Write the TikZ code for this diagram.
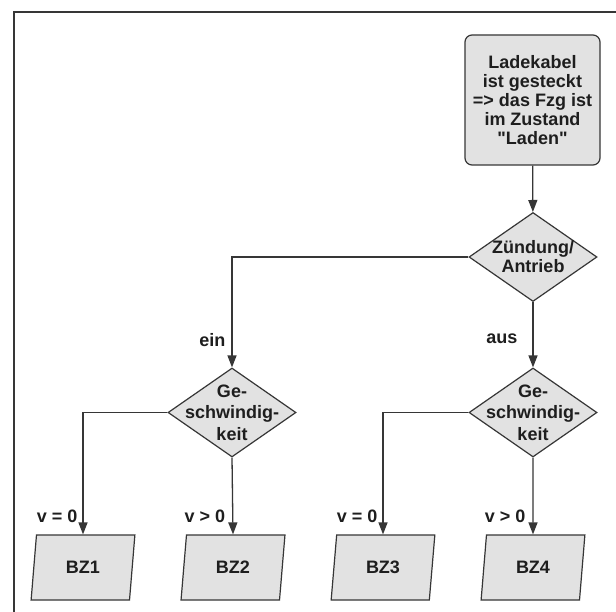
\documentclass[tikz,border=0pt]{standalone}
\usepackage{fontspec}
\setmainfont{Liberation Sans}[Ligatures=TeXOff]
\usetikzlibrary{shapes.geometric,arrows.meta}
\definecolor{boxfill}{HTML}{E2E2E2}
\definecolor{linec}{HTML}{363636}
\definecolor{textc}{HTML}{1E1E1E}
\begin{document}
\begin{tikzpicture}[x=1pt,y=-1pt,
  txt/.style={font=\bfseries\fontsize{18}{19}\selectfont, text=textc},
  txtg/.style={font=\bfseries\fontsize{18}{21.5}\selectfont, text=textc},
  box/.style={draw=linec, line width=1.2pt, fill=boxfill},
  startbox/.style={box, rounded corners=7pt, minimum width=135pt, minimum height=130pt, align=center, inner sep=0pt, txt},
  decision/.style={box, diamond, minimum width=128pt, minimum height=89pt, inner sep=0pt},
  io/.style={box, trapezium, trapezium left angle=81, trapezium right angle=99, trapezium stretches=true, minimum width=104pt, minimum height=65pt, inner sep=0pt, txt},
  flow/.style={draw=linec, line width=1.3pt, -{Triangle[length=12pt,width=9pt]}},
  lbl/.style={txt, inner sep=0pt, anchor=east}]
\useasboundingbox (0,0) rectangle (616,612);
\fill[white] (0,0) rectangle (616,612);
\draw[line width=1.5pt, draw=linec] (616,12) -- (14,12) -- (14,612);

\node[startbox] (start) at (532.5,100) {Ladekabel\\ist gesteckt\\=> das Fzg ist\\im Zustand\\"Laden"};
\node[decision, label={[txt, align=center]center:{Zündung/\\Antrieb}}] (z) at (533,257) {};
\node[decision, label={[txtg, align=center]center:{Ge-\\schwindig-\\keit}}] (g1) at (232,412.5) {};
\node[decision, label={[txtg, align=center]center:{Ge-\\schwindig-\\keit}}] (g2) at (533,412.5) {};

\node[io] (b1) at (83,567.5) {BZ1};
\node[io] (b2) at (233,567.5) {BZ2};
\node[io] (b3) at (383,567.5) {BZ3};
\node[io] (b4) at (533,567.5) {BZ4};

\draw[flow] (start) -- (z);
\draw[flow] (z.west) -| node[lbl, pos=0.875, xshift=-6pt] {ein} (g1.north);
\draw[flow] (z.south) -- node[lbl, pos=0.56, xshift=-15pt] {aus} (g2.north);
\draw[flow] (g1.west) -| node[lbl, pos=0.925, xshift=-5pt] {v = 0} (b1.north);
\draw[flow] (g1.south) -- node[lbl, pos=0.77, xshift=-7pt] {v > 0} (b2.north);
\draw[flow] (g2.west) -| node[lbl, pos=0.925, xshift=-5pt] {v = 0} (b3.north);
\draw[flow] (g2.south) -- node[lbl, pos=0.77, xshift=-7pt] {v > 0} (b4.north);
\end{tikzpicture}
\end{document}
